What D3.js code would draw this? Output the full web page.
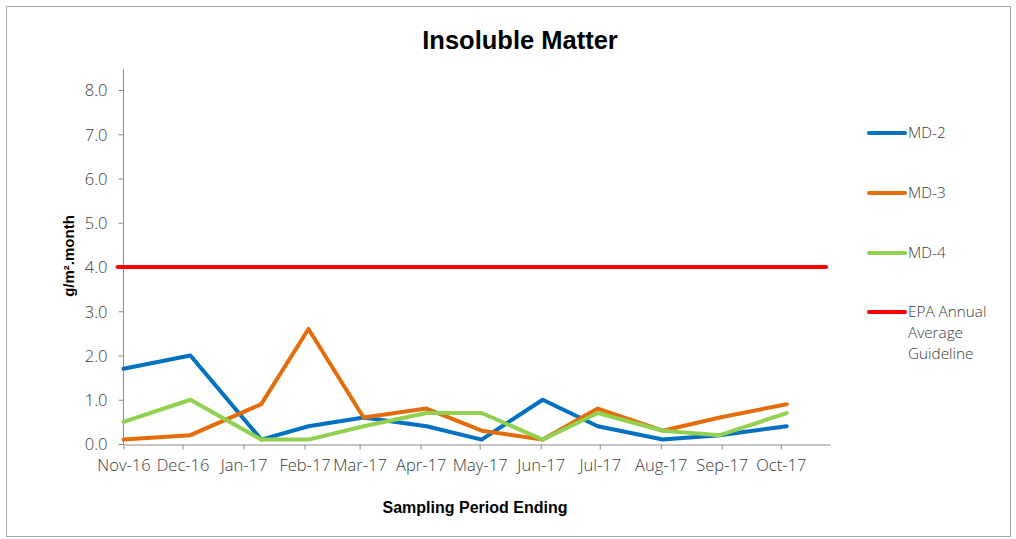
<!DOCTYPE html>
<html><head><meta charset="utf-8">
<script src="https://cdn.jsdelivr.net/npm/d3@7"></script>
<style>
body{margin:0;background:#fff;}
svg{display:block;}
.tick text{font-family:"Open Sans",sans-serif;font-weight:300;font-size:16.5px;fill:#3a3a3a;}
</style></head>
<body>
<svg id="c" width="1016" height="539"></svg>
<script>
// Data
const categories = ["Nov-16","Dec-16","Jan-17","Feb-17","Mar-17","Apr-17","May-17","Jun-17","Jul-17","Aug-17","Sep-17","Oct-17"];
const sampleDates = ["2016-11-01","2016-12-05","2017-01-10","2017-02-03","2017-03-03","2017-04-04","2017-05-02","2017-06-02","2017-06-30","2017-08-02","2017-08-31","2017-10-04"];
const md2 = [1.7, 2.0, 0.1, 0.4, 0.6, 0.4, 0.1, 1.0, 0.4, 0.1, 0.2, 0.4];
const md3 = [0.1, 0.2, 0.9, 2.6, 0.6, 0.8, 0.3, 0.1, 0.8, 0.3, 0.6, 0.9];
const md4 = [0.5, 1.0, 0.1, 0.1, 0.4, 0.7, 0.7, 0.1, 0.7, 0.3, 0.2, 0.7];
const guidelineValue = 4.0;
const guidelineDates = ["2016-10-29","2017-10-24"];
const axisDomain = ["2016-11-01","2017-10-26"];
const yTicks = [0,1,2,3,4,5,6,7,8];
const seriesNames = ["MD-2","MD-3","MD-4","EPA Annual Average Guideline"];
const seriesColors = ["#0070C0","#E46C0A","#92D050","#FF0000"];

const parse = d3.timeParse("%Y-%m-%d");
const svg = d3.select("#c");

// frame
svg.append("rect").attr("x",6.5).attr("y",6.5).attr("width",1004).attr("height",530)
  .attr("fill","#fff").attr("stroke","#a6a6a6").attr("stroke-width",1);

const x = d3.scaleTime().domain(axisDomain.map(parse)).range([123.5, 830]);
const y = d3.scaleLinear().domain([0, 8]).range([444, 90]);

// y axis
const gy = svg.append("g").attr("transform","translate(123.5,0)")
  .call(d3.axisLeft(y).tickValues(yTicks).tickFormat(d3.format(".1f")).tickSize(5).tickSizeOuter(0).tickPadding(11));
gy.select(".domain").remove();
gy.append("line").attr("x1",0).attr("x2",0).attr("y1",69).attr("y2",444).attr("stroke","#8c8c8c");
gy.selectAll(".tick line").attr("stroke","#8c8c8c");
gy.selectAll(".tick text").attr("dy","0.36em");

// x axis
const monthTicks = d3.timeMonth.range(parse("2016-11-01"), parse("2017-10-02"));
const gx = svg.append("g").attr("transform","translate(0,444.5)")
  .call(d3.axisBottom(x).tickValues(monthTicks).tickFormat((d,i)=>categories[i]).tickSize(5).tickSizeOuter(0).tickPadding(10));
gx.select(".domain").attr("stroke","#8c8c8c");
gx.selectAll(".tick line").attr("stroke","#8c8c8c");

// lines
const line = d3.line().x(d=>x(d[0])).y(d=>y(d[1]));
const dates = sampleDates.map(parse);
[md2, md3, md4].forEach((vals, k) => {
  svg.append("path").datum(dates.map((d,i)=>[d, vals[i]]))
    .attr("d", line).attr("fill","none").attr("stroke", seriesColors[k])
    .attr("stroke-width",4).attr("stroke-linejoin","round").attr("stroke-linecap","round");
});
svg.append("path").datum(guidelineDates.map(d=>[parse(d), guidelineValue]))
  .attr("d", line).attr("fill","none").attr("stroke", seriesColors[3])
  .attr("stroke-width",4).attr("stroke-linecap","round");

// title
svg.append("text").attr("x",520).attr("y",49).attr("text-anchor","middle")
  .attr("font-family","Liberation Sans, Arial, sans-serif").attr("font-weight","bold")
  .attr("font-size",25.5).attr("fill","#000").text("Insoluble Matter");

// axis titles
svg.append("text").attr("x",475).attr("y",513).attr("text-anchor","middle")
  .attr("font-family","Liberation Sans, Arial, sans-serif").attr("font-weight","bold")
  .attr("font-size",16).attr("fill","#000").text("Sampling Period Ending");
svg.append("text").attr("transform","translate(74,256) rotate(-90)").attr("text-anchor","middle")
  .attr("font-family","Liberation Sans, Arial, sans-serif").attr("font-weight","bold")
  .attr("font-size",15).attr("fill","#000").text("g/m².month");

// legend
const legY = [133, 193, 253, 312];
seriesNames.forEach((name, i) => {
  const g = svg.append("g").attr("transform", `translate(0,${legY[i]})`);
  g.append("line").attr("x1",869).attr("x2",905).attr("y1",0).attr("y2",0)
    .attr("stroke", seriesColors[i]).attr("stroke-width",4).attr("stroke-linecap","round");
  const words = i === 3 ? ["EPA Annual","Average","Guideline"] : [name];
  words.forEach((w, j) => g.append("text").attr("x",908).attr("y", j*21).attr("dy","0.35em")
    .attr("font-family","Open Sans, sans-serif").attr("font-weight",300)
    .attr("font-size",15.3).attr("fill","#3a3a3a").text(w));
});
</script>
</body></html>
